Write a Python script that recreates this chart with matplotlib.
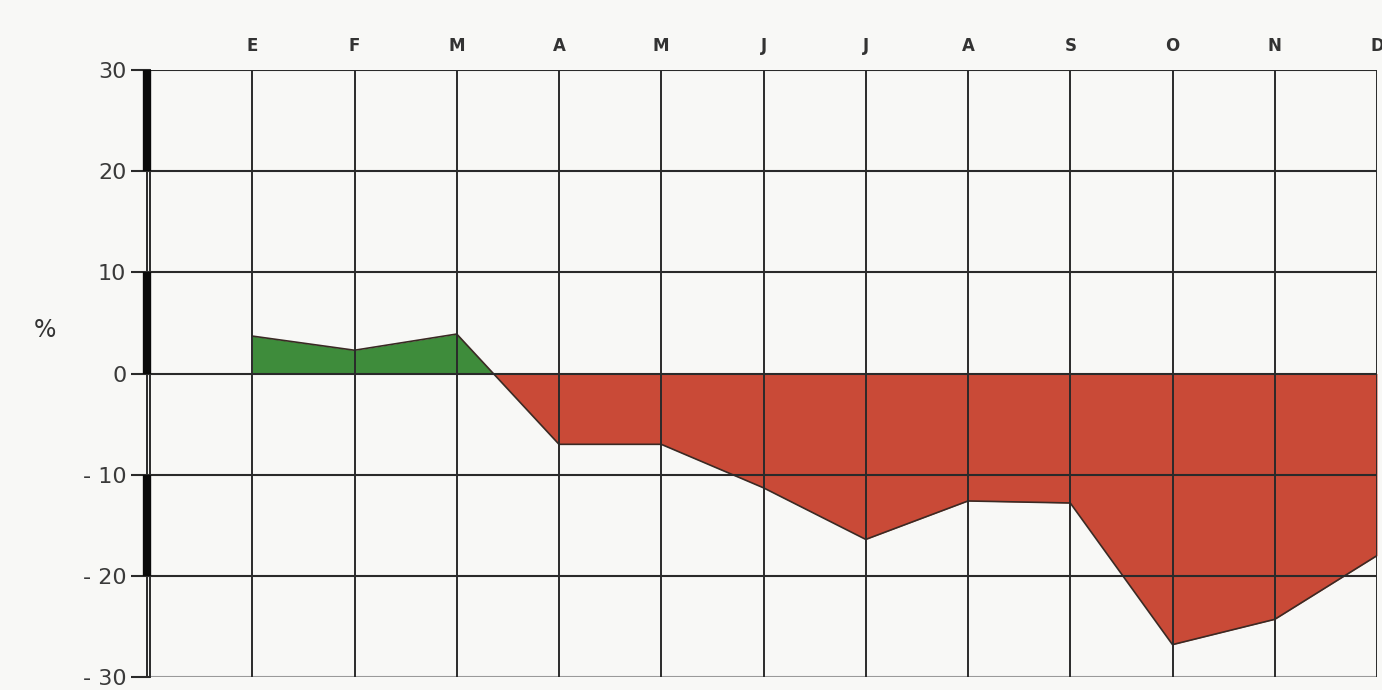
import numpy as np
import matplotlib.pyplot as plt

# month positions 1..12 (E..D), percent deviation
months = ["E", "F", "M", "A", "M", "J", "J", "A", "S", "O", "N", "D"]
month_pos = [1, 2, 3, 4, 5, 6, 7, 8, 9, 10, 11, 12]
values = [3.7, 2.3, 3.9, -7.0, -7.0, -11.3, -16.4, -12.6, -12.8, -26.8, -24.3, -18.0]
yticks = [30, 20, 10, 0, -10, -20, -30]
ylabels = ["30", "20", "10", "0", "- 10", "- 20", "- 30"]

bg = "#f8f8f6"
green = "#3e8c3b"
red = "#c94a37"
ink = "#2a2a2a"

fig = plt.figure(figsize=(13.82, 6.9), dpi=100, facecolor=bg)
ax = fig.add_axes([150 / 1382, 13 / 690, (1377 - 150) / 1382, (677 - 70) / 690])
ax.set_facecolor(bg)

x = np.array(month_pos, dtype=float)
y = np.array(values)
ax.fill_between(x, 0, y, where=y >= 0, interpolate=True, color=green, lw=0, zorder=2)
ax.fill_between(x, 0, y, where=y <= 0, interpolate=True, color=red, lw=0, zorder=2)
ax.plot(x, y, color="#3a2a24", lw=1.2, zorder=3)

ax.set_xlim(0, 12)
ax.set_ylim(-30, 30)

# grid
for yv in yticks:
    c = "#9a9a9a" if yv == -30 else ink
    ax.axhline(yv, color=c, lw=1.5, zorder=4)
for xv in month_pos:
    ax.axvline(xv, color=ink, lw=1.4, zorder=4)

for s in ax.spines.values():
    s.set_visible(False)

# double left axis with thick alternating segments
ax.plot([0.0, 0.0], [-30, 30], color=ink, lw=1.4, clip_on=False, zorder=5)
ax.plot([-0.03, -0.03], [-30, 30], color=ink, lw=1.4, clip_on=False, zorder=5)
for lo, hi in [(20, 30), (0, 10), (-20, -10)]:
    ax.plot([-0.03, -0.03], [lo, hi], color="#0a0a0a", lw=6, clip_on=False,
            solid_capstyle="butt", zorder=6)

ax.set_yticks(yticks)
ax.set_yticklabels(ylabels, fontsize=16, color="#3a3a3a")
ax.tick_params(axis="y", length=14, width=1.5, color=ink, pad=3)
ax.set_xticks(month_pos)
ax.set_xticklabels(months, fontsize=12, fontweight="bold", color="#333333")
ax.xaxis.tick_top()
ax.tick_params(axis="x", length=0, pad=11)

fig.text(45 / 1382, 1 - 330 / 690, "%", fontsize=17, color="#333333", ha="center", va="center")

fig.savefig("out.png", dpi=100, facecolor=bg)
